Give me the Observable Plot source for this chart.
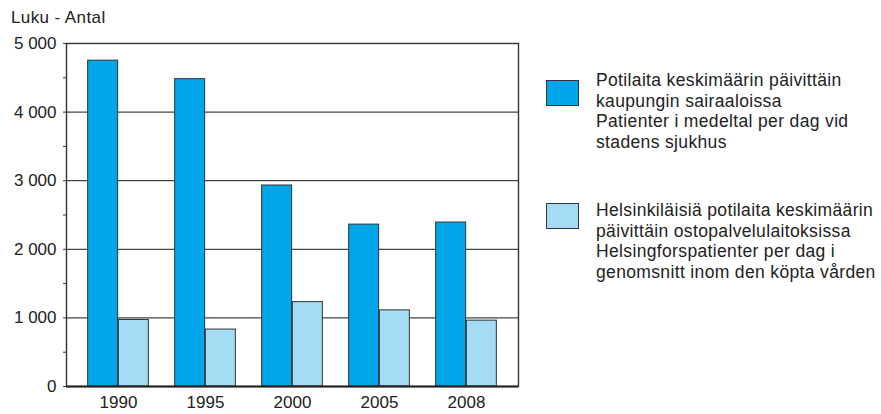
<!DOCTYPE html>
<html>
<head>
<meta charset="utf-8">
<script src="https://cdn.jsdelivr.net/npm/d3@7"></script>
<script src="https://cdn.jsdelivr.net/npm/@observablehq/plot@0.6"></script>
<style>
  html, body { margin: 0; padding: 0; background: #fff; }
  #wrap { position: relative; width: 881px; height: 414px; overflow: hidden; font-family: "Liberation Sans", Arial, sans-serif; color: #222; }
  #unit { position: absolute; left: 11px; top: 8px; font-size: 17px; letter-spacing: 0.4px; line-height: normal; }
  .leg { position: absolute; left: 546px; font-size: 17.5px; line-height: 20.7px; letter-spacing: 0.35px; white-space: nowrap; }
  .sw { position: absolute; left: 0; width: 33px; height: 26px; border: 1px solid #333; box-sizing: border-box; }
  .txt { position: absolute; left: 50px; top: 0; }
  #chart { position: absolute; left: 0; top: 0; }
</style>
</head>
<body>
<div id="wrap">
  <div id="chart"></div>
  <div id="unit">Luku - Antal</div>
  <div class="leg" id="leg1" style="top:70px"></div>
  <div class="leg" id="leg2" style="top:200px"></div>
</div>
<script>
const years = ["1990", "1995", "2000", "2005", "2008"];
const seriesNames = [
  "Potilaita keskimäärin päivittäin\nkaupungin sairaaloissa\nPatienter i medeltal per dag vid\nstadens sjukhus",
  "Helsinkiläisiä potilaita keskimäärin\npäivittäin ostopalvelulaitoksissa\nHelsingforspatienter per dag i\ngenomsnitt inom den köpta vården"
];
const cityHospitals = [4750, 4480, 2930, 2360, 2390];
const purchasedCare = [970, 830, 1230, 1110, 960];
const yTicks = [0, 1000, 2000, 3000, 4000, 5000];
const yMinorTicks = [500, 1500, 2500, 3500, 4500];
const colors = ["#00a6e9", "#a4dbf5"];
const swatchOffsets = [10, 2.5];

const rows1 = years.map((y, i) => ({year: y, value: cityHospitals[i]}));
const rows2 = years.map((y, i) => ({year: y, value: purchasedCare[i]}));

const fmt = d => d3.format(",")(d).replace(/,/g, " ");

const bw = 30.7;
const plot = Plot.plot({
  width: 881,
  height: 414,
  marginTop: 43,
  marginBottom: 28,
  marginLeft: 66,
  marginRight: 363,
  style: {fontFamily: "'Liberation Sans', Arial, sans-serif", fontSize: "17px", color: "#222", background: "white"},
  x: {domain: years, type: "band", paddingInner: 0.65, paddingOuter: 0.4, align: 0.5, axis: null},
  y: {domain: [0, 5000], axis: null},
  marks: [
    Plot.gridY(yTicks.filter(d => d > 0 && d < 5000), {stroke: "#444", strokeOpacity: 1, strokeWidth: 1.3}),
    Plot.barY(rows1, {x: "year", y: "value", fill: colors[0], stroke: "#333", strokeWidth: 1, dx: -bw / 2}),
    Plot.barY(rows2, {x: "year", y: "value", fill: colors[1], stroke: "#333", strokeWidth: 1, dx: bw / 2}),
    Plot.frame({stroke: "#333", strokeWidth: 1.4}),
    Plot.ruleY([0], {stroke: "#222", strokeWidth: 2.2}),
    Plot.axisY(yTicks, {anchor: "left", label: null, tickSize: 3, tickPadding: 7, tickFormat: fmt, stroke: "#333", fill: "#222", fontSize: 17, letterSpacing: 0.2}),
    Plot.axisY(yMinorTicks, {anchor: "left", label: null, tickSize: 3, text: null, stroke: "#333"}),
    Plot.axisX(years, {anchor: "bottom", label: null, tickSize: 0, tickPadding: 9, fill: "#222", fontSize: 17, letterSpacing: 0.2})
  ]
});
document.getElementById("chart").appendChild(plot);

function legend(id, i) {
  const el = document.getElementById(id);
  const sw = document.createElement("div");
  sw.className = "sw";
  sw.style.background = colors[i];
  sw.style.top = swatchOffsets[i] + "px";
  el.appendChild(sw);
  const t = document.createElement("div");
  t.className = "txt";
  t.innerHTML = seriesNames[i].split("\n").join("<br>");
  el.appendChild(t);
}
legend("leg1", 0);
legend("leg2", 1);
</script>
</body>
</html>
